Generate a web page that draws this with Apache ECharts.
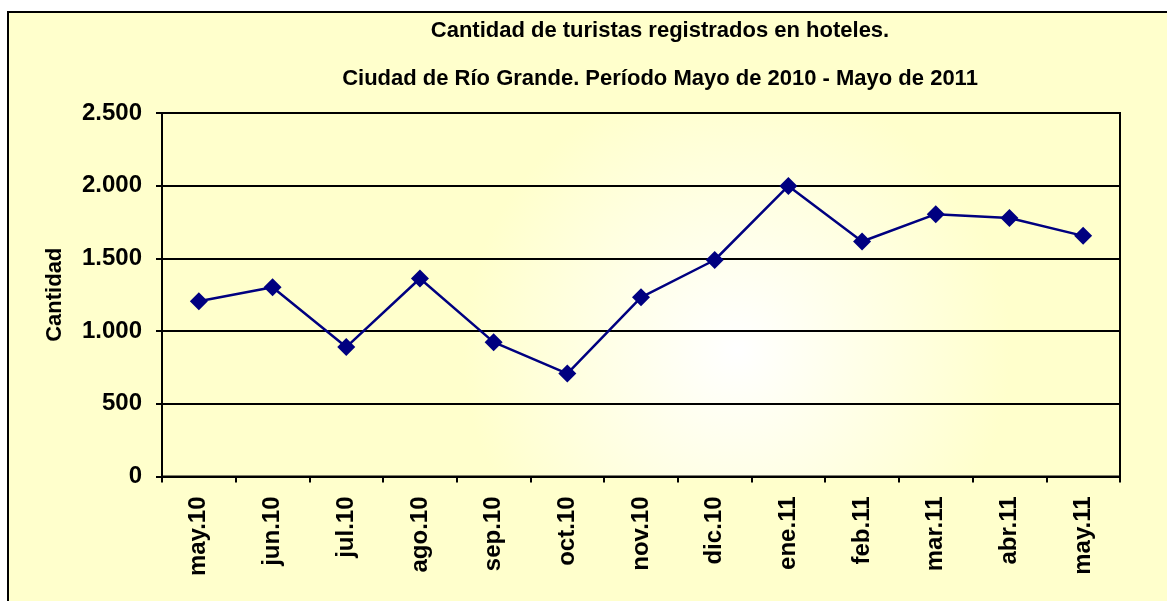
<!DOCTYPE html>
<html><head><meta charset="utf-8">
<script src="https://cdn.jsdelivr.net/npm/echarts@6/dist/echarts.min.js"></script>
<style>html,body{margin:0;padding:0;background:#fff}#c{width:1167px;height:601px}</style>
</head><body><div id="c"></div>
<script>
var categories = ['may.10','jun.10','jul.10','ago.10','sep.10','oct.10','nov.10','dic.10','ene.11','feb.11','mar.11','abr.11','may.11'];
var turistas = [1205, 1302, 890, 1362, 924, 708, 1232, 1489, 1998, 1616, 1804, 1778, 1655];
var titleLine1 = 'Cantidad de turistas registrados en hoteles.';
var titleLine2 = 'Ciudad de Río Grande. Período Mayo de 2010 - Mayo de 2011';
var yAxisName = 'Cantidad';

function fmt(v){ return String(v).replace(/\B(?=(\d{3})+(?!\d))/g, '.'); }

var FONT = '"Liberation Sans", Arial, sans-serif';
var chart = echarts.init(document.getElementById('c'));
chart.setOption({
  animation: false,
  graphic: [{
    type: 'rect', z: -10, silent: true,
    shape: { x: 8, y: 12, width: 1250, height: 700 },
    style: { fill: '#FFFFCC', stroke: '#000', lineWidth: 2 }
  }],
  title: [
    { text: titleLine1, left: 655, textAlign: 'center', top: 15,
      textStyle: { fontFamily: FONT, fontWeight: 'bold', fontSize: 22, color: '#000' } },
    { text: titleLine2, left: 655, textAlign: 'center', top: 63,
      textStyle: { fontFamily: FONT, fontWeight: 'bold', fontSize: 22, color: '#000' } }
  ],
  grid: {
    left: 162, top: 113, right: 47, bottom: 124.5,
    show: true, borderColor: '#000', borderWidth: 2,
    backgroundColor: {
      type: 'radial', x: 0.6, y: 0.65, r: 0.75,
      colorStops: [{ offset: 0, color: '#FFFFFF' }, { offset: 1, color: '#FFFFCC' }]
    }
  },
  xAxis: {
    type: 'category', data: categories, boundaryGap: true,
    axisLine: { lineStyle: { color: '#000', width: 2 } },
    axisTick: { show: true, length: 6, inside: false, lineStyle: { color: '#000', width: 2 } },
    axisLabel: { rotate: 90, margin: 20, color: '#000', fontFamily: FONT, fontWeight: 'bold', fontSize: 24 }
  },
  yAxis: {
    type: 'value', min: 0, max: 2500, interval: 500,
    name: yAxisName, nameLocation: 'middle', nameGap: 96, nameRotate: 90,
    nameTextStyle: { fontFamily: FONT, fontWeight: 'bold', fontSize: 22, color: '#000' },
    axisLine: { show: true, lineStyle: { color: '#000', width: 2 } },
    axisTick: { show: true, length: 6, lineStyle: { color: '#000', width: 2 } },
    splitLine: { show: true, lineStyle: { color: '#000', width: 2 } },
    axisLabel: { margin: 20, color: '#000', fontFamily: FONT, fontWeight: 'bold', fontSize: 24, formatter: fmt }
  },
  series: [{
    type: 'line', data: turistas,
    symbol: 'diamond', symbolSize: 18,
    lineStyle: { color: '#000080', width: 2.5 },
    itemStyle: { color: '#000080' }
  }]
});
</script></body></html>
